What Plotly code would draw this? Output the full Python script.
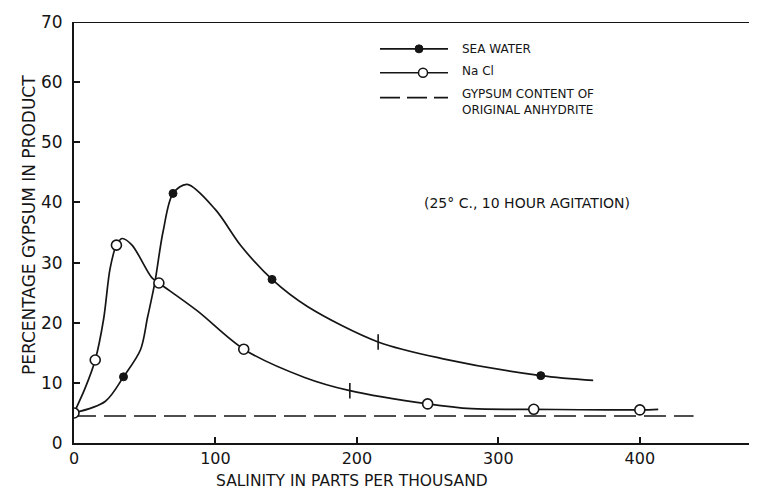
import plotly.graph_objects as go

# ---- data ----
sw_x = [35, 70, 140, 330]
sw_y = [11.0, 41.5, 27.2, 11.2]
sw_curve_x = [0, 22, 35, 47, 52, 57, 63, 70, 80, 100, 118, 140, 165, 215, 261, 330, 367]
sw_curve_y = [5.0, 6.9, 11.0, 15.5, 20.9, 26.5, 35.2, 41.5, 43.0, 38.8, 32.8, 27.2, 22.7, 16.8, 14.0, 11.2, 10.4]
sw_mark_x = [215]
sw_mark_y = [16.8]

nacl_x = [0, 15, 30, 60, 120, 250, 325, 400]
nacl_y = [5.0, 13.8, 32.9, 26.6, 15.6, 6.5, 5.6, 5.5]
nacl_curve_x = [0, 8, 15, 21, 25.5, 30, 34, 41, 55, 60, 87, 120, 163, 195, 250, 281, 325, 400, 413]
nacl_curve_y = [5.0, 9.2, 13.8, 20.7, 29.0, 32.9, 34.0, 32.9, 27.5, 26.6, 22.0, 15.6, 10.9, 8.7, 6.5, 5.7, 5.6, 5.5, 5.6]
nacl_mark_x = [195]
nacl_mark_y = [8.7]

gyp_x = [0, 438]
gyp_y = [4.5, 4.5]

x_ticks = [0, 100, 200, 300, 400]
y_ticks = [0, 10, 20, 30, 40, 50, 60, 70]

legend_labels = ["SEA WATER", "Na Cl", "GYPSUM CONTENT OF<br>ORIGINAL ANHYDRITE"]
note_text = "(25° C., 10 HOUR AGITATION)"
x_title = "SALINITY IN PARTS PER THOUSAND"
y_title = "PERCENTAGE GYPSUM IN PRODUCT"

# ---- layout geometry (page pixels; the page body adds an 8px offset) ----
W, H = 757, 498
OFF = 8
L, R, T, B = 74, 4, 20, 55
PW, PH = W - L - R, H - T - B
INK = "#151515"
FONT = "DejaVu Sans"


def px(xp):
    return (xp - L) / PW


def py(yp):
    return 1 - (yp - T) / PH


fig = go.Figure()

fig.add_trace(go.Scatter(x=gyp_x, y=gyp_y, mode="lines",
                         line=dict(color=INK, width=1.6, dash="22px,8px"),
                         showlegend=False, hoverinfo="skip"))
fig.add_trace(go.Scatter(x=sw_curve_x, y=sw_curve_y, mode="lines",
                         line=dict(color=INK, width=1.7, shape="spline", smoothing=0.9),
                         showlegend=False, hoverinfo="skip"))
fig.add_trace(go.Scatter(x=nacl_curve_x, y=nacl_curve_y, mode="lines",
                         line=dict(color=INK, width=1.7, shape="spline", smoothing=0.9),
                         showlegend=False, hoverinfo="skip"))
fig.add_trace(go.Scatter(x=sw_mark_x + nacl_mark_x, y=sw_mark_y + nacl_mark_y, mode="markers",
                         marker=dict(symbol="line-ns", size=11, line=dict(color=INK, width=1.6)),
                         showlegend=False, hoverinfo="skip"))
fig.add_trace(go.Scatter(x=sw_x, y=sw_y, mode="markers", name="SEA WATER",
                         marker=dict(symbol="circle", size=8, color=INK, line=dict(color=INK, width=1)),
                         showlegend=False))
fig.add_trace(go.Scatter(x=nacl_x, y=nacl_y, mode="markers", name="Na Cl",
                         marker=dict(symbol="circle", size=10, color="white", line=dict(color=INK, width=1.6)),
                         showlegend=False))

shapes = []
# frame top and partial right border
shapes.append(dict(type="line", xref="x", yref="y", x0=0, x1=480, y0=70, y1=70,
                   line=dict(color=INK, width=2)))
shapes.append(dict(type="line", xref="x", yref="y", x0=480, x1=480, y0=70, y1=32,
                   line=dict(color=INK, width=2)))

# hand-drawn legend
leg_x0, leg_x1 = 380, 448
leg_rows = [47, 71, 96]
shapes.append(dict(type="line", xref="paper", yref="paper", x0=px(leg_x0), x1=px(leg_x1),
                   y0=py(leg_rows[0]), y1=py(leg_rows[0]), line=dict(color=INK, width=1.6)))
shapes.append(dict(type="line", xref="paper", yref="paper", x0=px(leg_x0), x1=px(leg_x1),
                   y0=py(leg_rows[1]), y1=py(leg_rows[1]), line=dict(color=INK, width=1.6)))
shapes.append(dict(type="line", xref="paper", yref="paper", x0=px(leg_x0), x1=px(leg_x1),
                   y0=py(leg_rows[2]), y1=py(leg_rows[2]), line=dict(color=INK, width=1.6, dash="20px,7px")))
shapes.append(dict(type="circle", xref="paper", yref="paper", xsizemode="pixel", ysizemode="pixel",
                   xanchor=px(419), yanchor=py(leg_rows[0]), x0=-4, x1=4, y0=-4, y1=4,
                   fillcolor=INK, line=dict(color=INK, width=1)))
shapes.append(dict(type="circle", xref="paper", yref="paper", xsizemode="pixel", ysizemode="pixel",
                   xanchor=px(423), yanchor=py(leg_rows[1]), x0=-4.5, x1=4.5, y0=-4.5, y1=4.5,
                   fillcolor="white", line=dict(color=INK, width=1.5)))

annotations = []
annotations.append(dict(xref="paper", yref="paper", x=px(460), y=py(leg_rows[0]), text=legend_labels[0],
                        showarrow=False, xanchor="left", yanchor="middle",
                        font=dict(family=FONT, size=12, color=INK)))
annotations.append(dict(xref="paper", yref="paper", x=px(460), y=py(leg_rows[1] - 2), text=legend_labels[1],
                        showarrow=False, xanchor="left", yanchor="middle",
                        font=dict(family=FONT, size=12, color=INK)))
annotations.append(dict(xref="paper", yref="paper", x=px(460), y=py(100), text=legend_labels[2],
                        showarrow=False, xanchor="left", yanchor="middle", align="left",
                        font=dict(family=FONT, size=12, color=INK)))
annotations.append(dict(xref="paper", yref="paper", x=px(422), y=py(202), text=note_text,
                        showarrow=False, xanchor="left", yanchor="middle",
                        font=dict(family=FONT, size=14, color=INK)))
annotations.append(dict(xref="paper", yref="paper", x=px(352), y=py(481), text=x_title,
                        showarrow=False, xanchor="center", yanchor="middle",
                        font=dict(family=FONT, size=15.5, color=INK)))
annotations.append(dict(xref="paper", yref="paper", x=px(29), y=py(224), text=y_title,
                        showarrow=False, xanchor="center", yanchor="middle", textangle=-90,
                        font=dict(family=FONT, size=17, color=INK)))

fig.update_layout(
    width=W - OFF, height=H - OFF,
    margin=dict(l=L - OFF, r=R, t=T - OFF, b=B),
    paper_bgcolor="white", plot_bgcolor="white",
    showlegend=False,
    shapes=shapes, annotations=annotations,
    xaxis=dict(range=[0, 480], tickvals=x_ticks, ticktext=[str(v) for v in x_ticks],
               showgrid=False, zeroline=False, showline=True, linecolor=INK, linewidth=2,
               ticks="inside", ticklen=6, tickwidth=1.6, tickcolor=INK,
               tickfont=dict(family=FONT, size=16, color=INK), ticklabelstandoff=0),
    yaxis=dict(range=[0, 70], tickvals=y_ticks, ticktext=[str(v) for v in y_ticks],
               showgrid=False, zeroline=False, showline=True, linecolor=INK, linewidth=2,
               ticks="inside", ticklen=6, tickwidth=1.6, tickcolor=INK,
               tickfont=dict(family=FONT, size=17, color=INK), ticklabelstandoff=6),
)

fig.write_html("out.html")
